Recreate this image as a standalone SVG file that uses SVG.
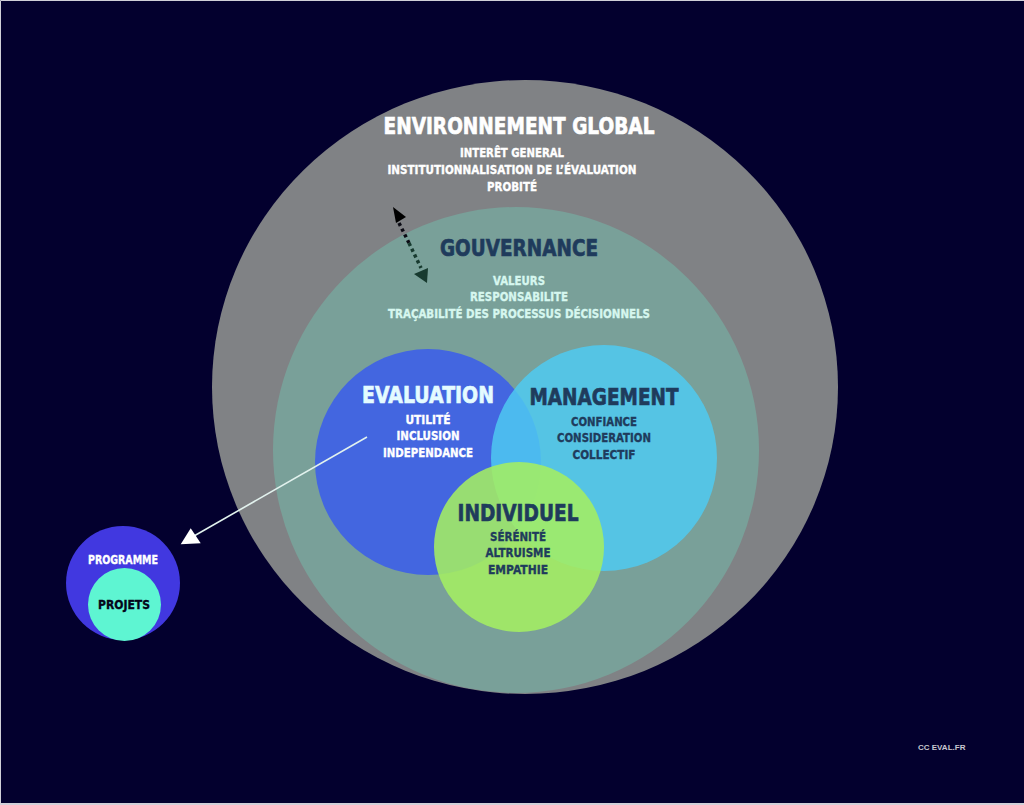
<svg xmlns="http://www.w3.org/2000/svg" width="1024" height="805" viewBox="0 0 1024 805">
<style>
.t{font-family:"DejaVu Sans","Liberation Sans",sans-serif;font-weight:bold;text-anchor:middle}
.h{font-size:23px;stroke-width:0.7px}
.s{font-size:11.5px;stroke-width:0.35px}
.w{fill:#ffffff;stroke:#ffffff}
.n{fill:#1f3b5c;stroke:#1f3b5c}
.m{fill:#d6f7ef;stroke:#d6f7ef}
.e{fill:#e4fbff;stroke:#e4fbff}
.k{fill:#05061a;stroke:#05061a}
</style>
<rect x="0" y="0" width="1024" height="805" fill="#03002e"/>
<path d="M0.5,805 V0.5 H1024" fill="none" stroke="#d0d0d8" stroke-width="1"/>
<line x1="0" y1="804" x2="1024" y2="804" stroke="#d0d0d8" stroke-width="2"/>

<g id="environnement">
<ellipse cx="525" cy="387" rx="313" ry="307" fill="#808285"/>
<text class="t h w" x="519" y="134" textLength="271" lengthAdjust="spacingAndGlyphs">ENVIRONNEMENT GLOBAL</text>
<text class="t s w" x="512" y="157" textLength="104" lengthAdjust="spacingAndGlyphs">INTERÊT GENERAL</text>
<text class="t s w" x="512" y="174" textLength="249" lengthAdjust="spacingAndGlyphs">INSTITUTIONNALISATION DE L’ÉVALUATION</text>
<text class="t s w" x="512" y="191" textLength="50" lengthAdjust="spacingAndGlyphs">PROBITÉ</text>
</g>

<g id="gouvernance">
<circle cx="516" cy="450" r="243" fill="#79a099"/>
<text class="t h n" x="519" y="256" textLength="158" lengthAdjust="spacingAndGlyphs">GOUVERNANCE</text>
<text class="t s m" x="519" y="285" textLength="52" lengthAdjust="spacingAndGlyphs">VALEURS</text>
<text class="t s m" x="519" y="301" textLength="98" lengthAdjust="spacingAndGlyphs">RESPONSABILITE</text>
<text class="t s m" x="519" y="318" textLength="262" lengthAdjust="spacingAndGlyphs">TRAÇABILITÉ DES PROCESSUS DÉCISIONNELS</text>
</g>

<g id="evaluation">
<circle cx="428" cy="462" r="113" fill="#4366e0"/>
</g>

<g id="management">
<circle cx="604" cy="458" r="113" fill="#4fcbf2" fill-opacity="0.84"/>
</g>

<g id="individuel">
<circle cx="519" cy="547" r="85" fill="#a4ee62" fill-opacity="0.88"/>
</g>

<g id="labels">
<text class="t h e" x="428" y="403" textLength="132" lengthAdjust="spacingAndGlyphs">EVALUATION</text>
<text class="t s w" x="428" y="424" textLength="45" lengthAdjust="spacingAndGlyphs">UTILITÉ</text>
<text class="t s w" x="428" y="440" textLength="63" lengthAdjust="spacingAndGlyphs">INCLUSION</text>
<text class="t s w" x="428" y="457" textLength="90" lengthAdjust="spacingAndGlyphs">INDEPENDANCE</text>
<text class="t h n" x="604" y="405" textLength="149" lengthAdjust="spacingAndGlyphs">MANAGEMENT</text>
<text class="t s n" x="604" y="426" textLength="66" lengthAdjust="spacingAndGlyphs">CONFIANCE</text>
<text class="t s n" x="604" y="442" textLength="94" lengthAdjust="spacingAndGlyphs">CONSIDERATION</text>
<text class="t s n" x="604" y="459" textLength="63" lengthAdjust="spacingAndGlyphs">COLLECTIF</text>
<text class="t h n" x="518" y="521" textLength="121" lengthAdjust="spacingAndGlyphs">INDIVIDUEL</text>
<text class="t s n" x="518" y="541" textLength="56" lengthAdjust="spacingAndGlyphs">SÉRÉNITÉ</text>
<text class="t s n" x="518" y="557" textLength="65" lengthAdjust="spacingAndGlyphs">ALTRUISME</text>
<text class="t s n" x="518" y="574" textLength="60" lengthAdjust="spacingAndGlyphs">EMPATHIE</text>
</g>

<g id="programme">
<circle cx="123" cy="583" r="57" fill="#4138e0"/>
<text class="t s w" font-size="10.5" x="123" y="564" textLength="70" lengthAdjust="spacingAndGlyphs">PROGRAMME</text>
</g>
<g id="projets">
<circle cx="124.5" cy="604.5" r="36.5" fill="#5ef5d2"/>
<text class="t s k" font-size="10.5" x="124" y="609" textLength="52" lengthAdjust="spacingAndGlyphs">PROJETS</text>
</g>

<g id="connectors">
<line x1="367" y1="437" x2="194" y2="536" stroke="#e2f2ee" stroke-width="1.6"/>
<polygon points="180.7,544.3 190.7,528.3 200.7,543.3" fill="#ffffff"/>
<line x1="399" y1="223" x2="409" y2="243" stroke="#0b0b14" stroke-width="3.5" stroke-dasharray="3.2 3.2"/>
<line x1="409" y1="243" x2="421" y2="268" stroke="#173a2f" stroke-width="3.5" stroke-dasharray="3.2 3.2"/>
<polygon points="393,207 396,223 406,217" fill="#000000"/>
<polygon points="414,274 428,268 427,283" fill="#173a2f"/>
</g>

<text x="918" y="750" font-family="'Liberation Sans',Arial,sans-serif" font-weight="bold" font-size="8" fill="#c8c8d0">CC EVAL.FR</text>
</svg>
